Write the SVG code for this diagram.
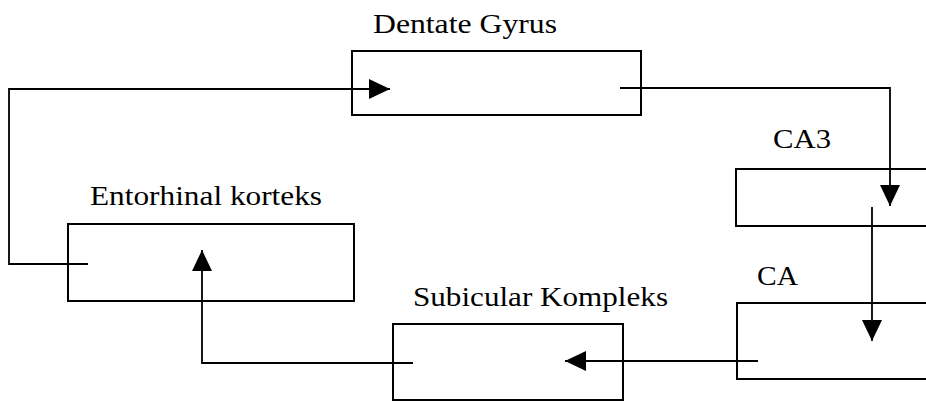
<svg xmlns="http://www.w3.org/2000/svg" width="926" height="403" viewBox="0 0 926 403">
  <style>
    .box { fill: none; stroke: #000; stroke-width: 2; }
    .wire { fill: none; stroke: #000; stroke-width: 1.8; }
    .lbl { font-family: "Liberation Serif", "Times New Roman", serif; font-size: 28px; fill: #000; }
  </style>
  <defs>
    <marker id="tri" viewBox="0 0 21 20" refX="21" refY="10" markerWidth="21" markerHeight="20" markerUnits="userSpaceOnUse" orient="auto">
      <path d="M0,0 L21,10 L0,20 Z" fill="#000"/>
    </marker>
  </defs>
  <rect width="926" height="403" fill="#fff"/>

  <g id="dentate-gyrus">
    <rect class="box" x="352" y="51" width="289" height="64"/>
    <text class="lbl" x="373" y="33" textLength="184" lengthAdjust="spacingAndGlyphs">Dentate Gyrus</text>
  </g>
  <g id="ca3">
    <rect class="box" x="736" y="169" width="200" height="57"/>
    <text class="lbl" x="773" y="148" textLength="58" lengthAdjust="spacingAndGlyphs">CA3</text>
  </g>
  <g id="ca">
    <rect class="box" x="737" y="303" width="200" height="76"/>
    <text class="lbl" x="757" y="285" textLength="41" lengthAdjust="spacingAndGlyphs">CA</text>
  </g>
  <g id="subicular-kompleks">
    <rect class="box" x="393" y="324" width="230" height="76"/>
    <text class="lbl" x="413" y="306" textLength="255" lengthAdjust="spacingAndGlyphs">Subicular Kompleks</text>
  </g>
  <g id="entorhinal-korteks">
    <rect class="box" x="68" y="224" width="286" height="77"/>
    <text class="lbl" x="90" y="205" textLength="232" lengthAdjust="spacingAndGlyphs">Entorhinal korteks</text>
  </g>

  <g id="connectors">
    <path class="wire" d="M88,264 H9 V89 H390" marker-end="url(#tri)"/>
    <path class="wire" d="M620,88 H890 V206" marker-end="url(#tri)"/>
    <path class="wire" d="M872,207 V341" marker-end="url(#tri)"/>
    <path class="wire" d="M758,361 H565" marker-end="url(#tri)"/>
    <path class="wire" d="M413,363 H202 V250" marker-end="url(#tri)"/>
  </g>
</svg>
